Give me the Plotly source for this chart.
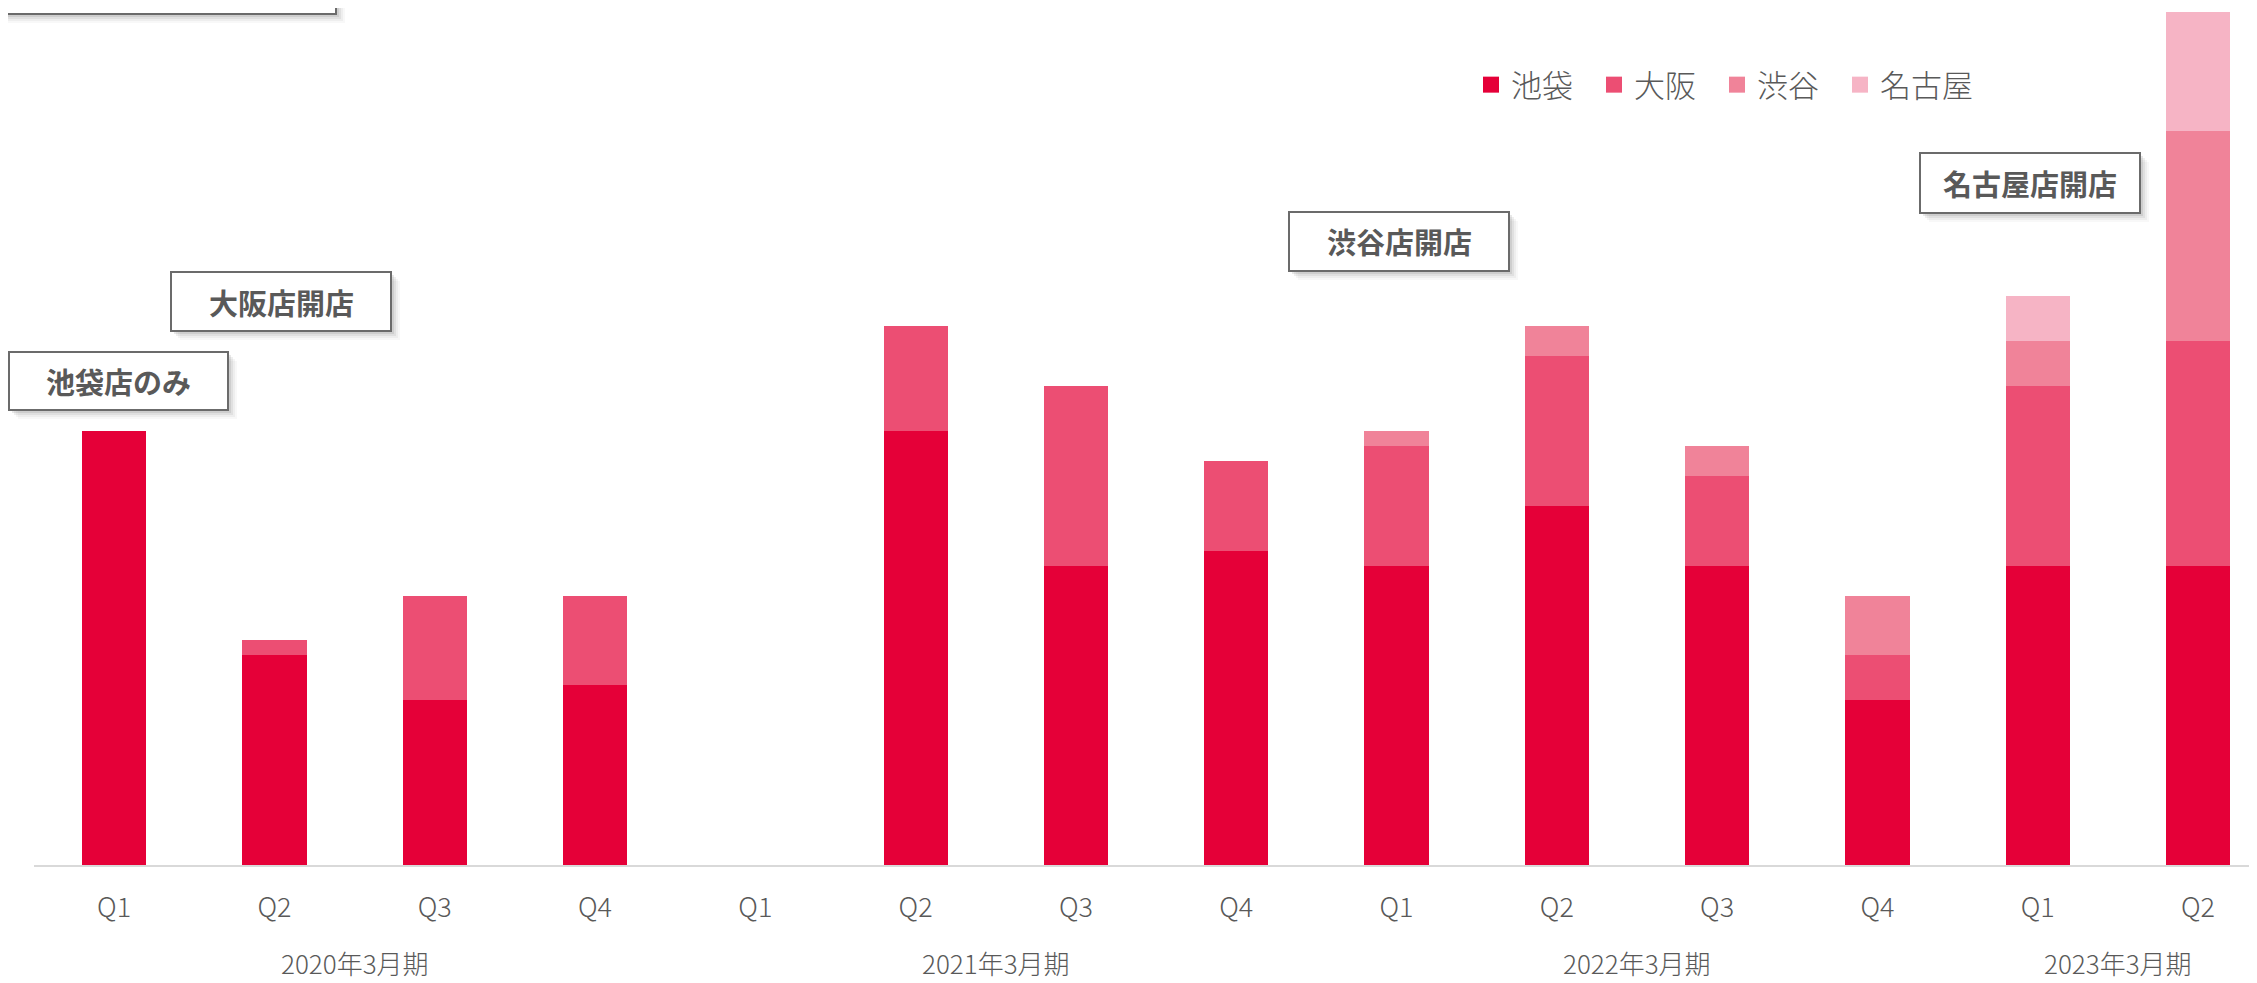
import plotly.graph_objects as go

# ---- data ----
quarters = ["Q1", "Q2", "Q3", "Q4", "Q1", "Q2", "Q3", "Q4", "Q1", "Q2", "Q3", "Q4", "Q1", "Q2"]
fiscal_years = ["2020年3月期", "2021年3月期", "2022年3月期", "2023年3月期"]
fiscal_year_centers = [1.5, 5.5, 9.5, 12.5]
stores = ["池袋", "大阪", "渋谷", "名古屋"]
ikebukuro = [29, 14, 11, 12, 0, 29, 20, 21, 20, 24, 20, 11, 20, 20]
osaka = [0, 1, 7, 6, 0, 7, 12, 6, 8, 10, 6, 3, 12, 15]
shibuya = [0, 0, 0, 0, 0, 0, 0, 0, 1, 2, 2, 4, 3, 14]
nagoya = [0, 0, 0, 0, 0, 0, 0, 0, 0, 0, 0, 0, 3, 8]
callouts = ["池袋店のみ", "大阪店開店", "渋谷店開店", "名古屋店開店"]

colors = ["#E50038", "#EC4E73", "#F08399", "#F6B4C5"]
series = [ikebukuro, osaka, shibuya, nagoya]

OFF = 8  # page body margin
W, H = 2257 - OFF, 983 - OFF
L, R, T, B = 34 - OFF, 8, 0, 975 - 857
PW, PH = W - L - R, H - T - B
FONT = "Noto Sans CJK JP"
GRAY = "#595959"

def px(x):  # page pixel -> paper
    return (x - OFF - L) / PW

def py(y):
    return (H - B - (y - OFF)) / PH

legend_ids = ["legend", "legend2", "legend3", "legend4"]
legend_left = [1471, 1594, 1717, 1840]

xs = list(range(len(quarters)))
fig = go.Figure()
for name, vals, c in zip(stores, series, colors):
    fig.add_trace(go.Bar(x=xs, y=vals, name=name, marker=dict(color=c, line=dict(width=0)),
                         width=0.4, showlegend=False, legendgroup=name))
for name, c, lid in zip(stores, colors, legend_ids):
    fig.add_trace(go.Scatter(x=[None], y=[None], mode="markers", name=name, legendgroup=name,
                             legend=lid,
                             marker=dict(symbol="square", size=16, color=c, line=dict(width=0))))

shapes = []
annotations = []

def add_box(x0, y0, x1, y1, text=None):
    for off, op in [(9, 0.05), (7, 0.08), (5, 0.12), (3, 0.18)]:
        shapes.append(dict(type="rect", xref="paper", yref="paper",
                           x0=px(x0 + off), x1=px(x1 + off), y0=py(y1 + off), y1=py(y0 + off),
                           fillcolor="#7f7f7f", opacity=op, line=dict(width=0), layer="above"))
    shapes.append(dict(type="rect", xref="paper", yref="paper",
                       x0=px(x0), x1=px(x1), y0=py(y1), y1=py(y0),
                       fillcolor="white", line=dict(color="#6b6b6b", width=2), layer="above"))
    if text:
        annotations.append(dict(text=f"<b>{text}</b>", xref="paper", yref="paper",
                                x=px((x0 + x1) / 2), y=py((y0 + y1) / 2),
                                xanchor="center", yanchor="middle", showarrow=False,
                                font=dict(family=FONT, size=29, color=GRAY)))

add_box(-30, -120, 336, 14)
add_box(9, 352, 228, 410, callouts[0])
add_box(171, 272, 391, 331, callouts[1])
add_box(1289, 212, 1509, 271, callouts[2])
add_box(1920, 153, 2140, 213, callouts[3])

for fy, cx in zip(fiscal_years, fiscal_year_centers):
    annotations.append(dict(text=fy, x=cx, xref="x", y=py(962), yref="paper",
                            xanchor="center", yanchor="middle", showarrow=False,
                            font=dict(family=FONT, size=26, color=GRAY, weight=300)))

legends = {}
for lid, lx in zip(legend_ids, legend_left):
    legends[lid] = dict(orientation="h", x=px(lx), y=py(85), xanchor="left", yanchor="middle",
                        font=dict(family=FONT, size=31, color=GRAY, weight=300),
                        bgcolor="rgba(0,0,0,0)")

fig.update_layout(
    width=W, height=H,
    margin=dict(l=L, r=R, t=T, b=B),
    barmode="stack",
    plot_bgcolor="white", paper_bgcolor="white",
    font=dict(family=FONT, color=GRAY),
    shapes=shapes, annotations=annotations,
    xaxis=dict(range=[-0.5, -0.5 + PW / 160.3], tickmode="array",
               tickvals=xs, ticktext=quarters, showgrid=False, zeroline=False,
               showline=True, linecolor="#D9D9D9", linewidth=2, ticks="",
               ticklabelstandoff=18,
               tickfont=dict(family=FONT, size=27, color=GRAY, weight=300)),
    yaxis=dict(range=[0, PH / 14.97], showgrid=False, zeroline=False,
               showticklabels=False, showline=False),
    **legends,
)

fig.write_html("out.html")
